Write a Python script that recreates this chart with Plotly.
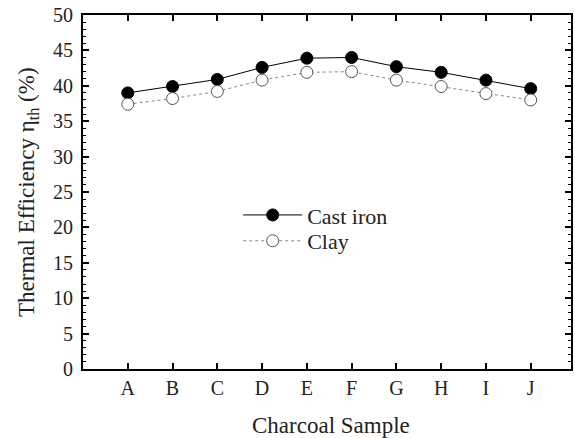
import plotly.graph_objects as go

categories = ["A", "B", "C", "D", "E", "F", "G", "H", "I", "J"]
cast_iron = [39.0, 39.9, 40.9, 42.6, 43.9, 44.0, 42.7, 41.9, 40.8, 39.6]
clay = [37.4, 38.2, 39.2, 40.8, 41.9, 42.0, 40.8, 39.9, 38.9, 38.0]
y_ticks = [0, 5, 10, 15, 20, 25, 30, 35, 40, 45, 50]

xpos = list(range(len(categories)))
font = "Liberation Serif, Times New Roman, serif"
txt = "#222222"

fig = go.Figure()
fig.add_trace(go.Scatter(
    x=xpos, y=cast_iron, name="Cast iron", mode="lines+markers", legend="legend",
    line=dict(color="black", width=1),
    marker=dict(symbol="circle", size=12, color="black", line=dict(color="black", width=1)),
))
fig.add_trace(go.Scatter(
    x=xpos, y=clay, name="Clay", mode="lines+markers", legend="legend2",
    line=dict(color="#888888", width=1, dash="dot"),
    marker=dict(symbol="circle", size=12, color="white", line=dict(color="#555555", width=1)),
))

leg_common = dict(xanchor="left", yanchor="top", bgcolor="rgba(0,0,0,0)",
                  itemwidth=59, font=dict(family=font, size=22, color=txt))

fig.update_layout(
    width=575, height=438,
    margin=dict(l=83, r=4, t=15, b=69),
    paper_bgcolor="white", plot_bgcolor="white",
    font=dict(family=font, size=20, color=txt),
    showlegend=True,
    legend=dict(x=0.318, y=0.494, **leg_common),
    legend2=dict(x=0.318, y=0.421, **leg_common),
    annotations=[
        dict(text="Charcoal Sample", x=0.5, y=0, xref="paper", yref="paper",
             xanchor="center", yanchor="middle", xshift=4, yshift=-56,
             showarrow=False, font=dict(family=font, size=23, color=txt)),
        dict(text="Thermal Efficiency η<sub>th</sub> (%)", x=0, y=0.5, xref="paper", yref="paper",
             xanchor="center", yanchor="middle", xshift=-55, yshift=0, textangle=-90,
             showarrow=False, font=dict(family=font, size=23, color=txt)),
    ],
)
fig.update_xaxes(
    range=[-1, 9.9], tickmode="array", tickvals=xpos, ticktext=categories,
    ticks="inside", ticklen=6, tickwidth=1.5, tickcolor="black",
    showline=True, linecolor="black", linewidth=2, mirror="ticks",
    showgrid=False, zeroline=False, automargin=False,
    tickfont=dict(family=font, size=20, color=txt),
)
fig.update_yaxes(
    range=[0, 50], tickmode="array", tickvals=y_ticks,
    ticks="inside", ticklen=6, tickwidth=1.5, tickcolor="black",
    minor=dict(dtick=1, ticks="inside", ticklen=3, tickcolor="black", tickwidth=1, showgrid=False),
    showline=True, linecolor="black", linewidth=2, mirror="ticks",
    showgrid=False, zeroline=False, automargin=False, ticklabelstandoff=4,
    ticklabeloverflow="allow",
    tickfont=dict(family=font, size=20, color=txt),
)

fig.write_html("out.html", config={"displayModeBar": False},
               post_script="document.body.style.margin='0';")
